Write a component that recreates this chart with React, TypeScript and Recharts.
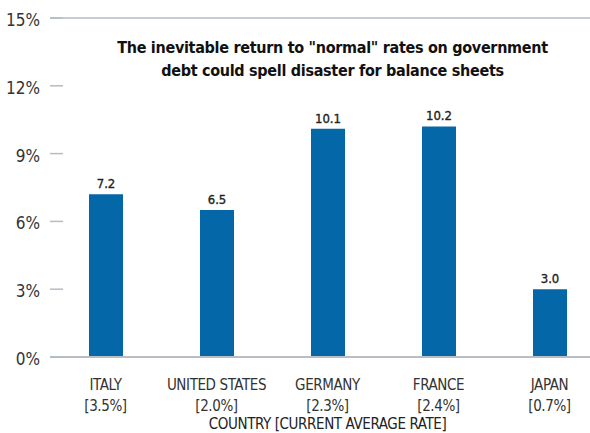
import { BarChart, Bar, XAxis, YAxis, ReferenceLine, LabelList } from 'recharts';

const countries = ['ITALY', 'UNITED STATES', 'GERMANY', 'FRANCE', 'JAPAN'];
const currentRates = ['[3.5%]', '[2.0%]', '[2.3%]', '[2.4%]', '[0.7%]'];
const normalRates = [7.2, 6.5, 10.1, 10.2, 3.0];
const yTicks = [0, 3, 6, 9, 12, 15];

const FONT = "'Liberation Sans Narrow', 'DejaVu Sans Condensed', 'Liberation Sans', sans-serif";

const data = countries.map((c, i) => ({ country: c, rate: currentRates[i], value: normalRates[i] }));

const YTick = (props: any) => {
  const { x, y, payload } = props;
  return (
    <g>
      <line x1={x} x2={x + 13} y1={y} y2={y} stroke="#b4bcc4" strokeWidth={1.5} />
      <text x={x - 10} y={y} dy={8} textAnchor="end" fontSize={17} fill="#333" fontFamily={FONT}>
        {`${payload.value}%`}
      </text>
    </g>
  );
};

const XTick = (props: any) => {
  const { x, y, index } = props;
  return (
    <g fontSize={15} fill="#333" fontFamily={FONT} letterSpacing={-0.4}>
      <text x={x} y={y + 25} textAnchor="middle">
        {countries[index]}
      </text>
      <text x={x} y={y + 46} textAnchor="middle">
        {currentRates[index]}
      </text>
    </g>
  );
};

export default function App() {
  return (
    <div style={{ position: 'absolute', left: 0, top: 0, width: 590, height: 433, overflow: 'hidden', background: '#fff' }}>
      <BarChart width={620} height={433} data={data} margin={{ top: 18, right: 15, left: 0, bottom: 0 }}>
        <YAxis
          width={50}
          domain={[0, 15]}
          ticks={yTicks}
          axisLine={false}
          tickLine={false}
          tickSize={0}
          tickMargin={0}
          tick={<YTick />}
          interval={0}
        />
        <XAxis
          dataKey="country"
          height={76}
          interval={0}
          tickLine={false}
          axisLine={{ stroke: '#b8bec4', strokeWidth: 2 }}
          tick={<XTick />}
          label={{
            value: 'COUNTRY [CURRENT AVERAGE RATE]',
            position: 'insideBottom',
            offset: 4,
            fontSize: 15,
            fill: '#222',
            fontFamily: FONT,
            letterSpacing: -0.4,
          }}
        />
        <ReferenceLine y={15} stroke="#b4bcc4" strokeWidth={1.5} />
        <Bar dataKey="value" fill="#0467a8" barSize={34} isAnimationActive={false}>
          <LabelList
            dataKey="value"
            position="top"
            offset={6}
            formatter={(v: any) => Number(v).toFixed(1)}
            style={{ fontSize: 13, fill: '#222', fontFamily: FONT, stroke: '#222', strokeWidth: 0.35 }}
          />
        </Bar>
      </BarChart>
      <div
        style={{
          position: 'absolute',
          left: 80,
          top: 36,
          width: 505,
          textAlign: 'center',
          fontFamily: FONT,
          fontWeight: 'bold',
          fontSize: 16,
          letterSpacing: -0.3,
          whiteSpace: 'nowrap',
          lineHeight: '23px',
          color: '#111',
        }}
      >
        The inevitable return to "normal" rates on government
        <br />
        debt could spell disaster for balance sheets
      </div>
    </div>
  );
}
